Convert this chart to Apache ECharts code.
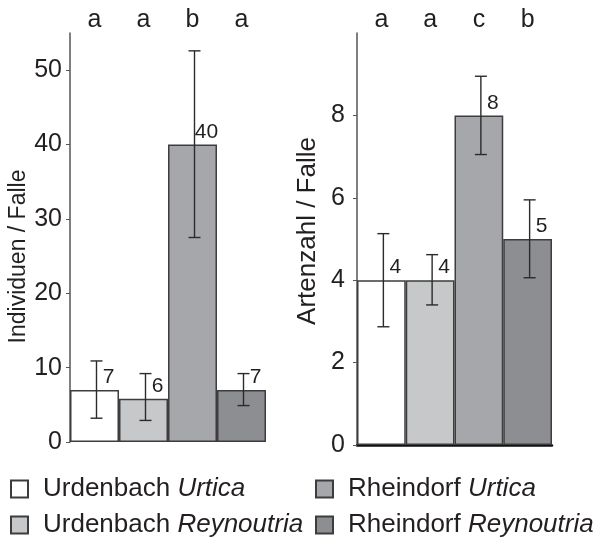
<!DOCTYPE html>
<html>
<head>
<meta charset="utf-8">
<script src="https://cdn.jsdelivr.net/npm/echarts@6/dist/echarts.min.js"></script>
<style>
  html, body { margin: 0; padding: 0; background: #fff; }
  #main { width: 593px; height: 539px; }
</style>
</head>
<body>
<div id="main"></div>
<script>
// groups (legend names: site + plant)
const groups = ["Urdenbach Urtica", "Urdenbach Reynoutria", "Rheindorf Urtica", "Rheindorf Reynoutria"];
const colors = ["#ffffff", "#c7c8ca", "#a6a7aa", "#8d8e91"];

// left panel: Individuen / Falle
const indMean = [7, 5.8, 40, 7];
const indLow = [3.2, 2.9, 27.5, 4.9];
const indHigh = [10.9, 9.2, 52.6, 9.2];
const indLabels = ["7", "6", "40", "7"];
const indLetters = ["a", "a", "b", "a"];

// right panel: Artenzahl / Falle
const artMean = [4, 4, 8, 5];
const artLow = [2.87, 3.4, 7.05, 4.06];
const artHigh = [5.13, 4.62, 8.95, 5.95];
const artLabels = ["4", "4", "8", "5"];
const artLetters = ["a", "a", "c", "b"];

const font = "Liberation Sans, Arial, sans-serif";
const txt = "#231f20";
let chart = echarts.init(document.getElementById("main"));

function barSeries(i, values, labels, axisIdx) {
  return {
    name: groups[i],
    type: "bar",
    stack: "s" + axisIdx,
    xAxisIndex: axisIdx * 2,
    yAxisIndex: axisIdx,
    barWidth: "100%",
    itemStyle: { color: colors[i], borderColor: "#3d3d3d", borderWidth: 1.5 },
    label: {
      show: true,
      position: "top",
      distance: 2,
      offset: [14, 0],
      fontSize: 21,
      fontFamily: font,
      color: txt,
      formatter: () => labels[i]
    },
    data: values.map((v, j) => (j === i ? v : "-"))
  };
}

function errSeries(low, high, axisIdx) {
  return {
    type: "custom",
    xAxisIndex: axisIdx * 2,
    yAxisIndex: axisIdx,
    silent: true,
    z: 5,
    renderItem: function (params, api) {
      const x = api.value(0);
      const lo = api.coord([x, api.value(1)]);
      const hi = api.coord([x, api.value(2)]);
      const cx = lo[0] + 2;
      const hw = 6;
      const st = { stroke: "#2b2b2b", lineWidth: 1.4 };
      return {
        type: "group",
        children: [
          { type: "line", shape: { x1: cx, y1: lo[1], x2: cx, y2: hi[1] }, style: st },
          { type: "line", shape: { x1: cx - hw, y1: lo[1], x2: cx + hw, y2: lo[1] }, style: st },
          { type: "line", shape: { x1: cx - hw, y1: hi[1], x2: cx + hw, y2: hi[1] }, style: st }
        ]
      };
    },
    data: low.map((v, j) => [j, v, high[j]])
  };
}

function catAxis(grid, showLine) {
  return {
    type: "category",
    gridIndex: grid,
    data: groups,
    axisLine: { show: showLine, lineStyle: { color: "#111", width: 2.5 } },
    axisTick: { show: false },
    axisLabel: { show: false }
  };
}

function letterAxis(grid, letters) {
  return {
    type: "category",
    gridIndex: grid,
    position: "top",
    data: letters,
    axisLine: { show: false },
    axisTick: { show: false },
    axisLabel: { fontSize: 25, fontFamily: font, color: txt, margin: 0 }
  };
}

function valAxis(grid, max, interval, name, gap, nameSize, pad, margin) {
  return {
    type: "value",
    gridIndex: grid,
    min: 0,
    max: max,
    interval: interval,
    name: name,
    nameLocation: "middle",
    nameGap: gap,
    nameTextStyle: { fontSize: nameSize, fontFamily: font, color: txt, padding: pad },
    splitLine: { show: false },
    axisLine: { show: true, lineStyle: { color: "#555", width: 1.5 } },
    axisTick: { show: true, length: 4, lineStyle: { color: "#555" } },
    axisLabel: { showMaxLabel: false, fontSize: 25, fontFamily: font, color: txt, margin: margin }
  };
}

function legendRich(name) {
  const k = name.indexOf(" ");
  return name.slice(0, k) + " {i|" + name.slice(k + 1) + "}";
}

const legendText = {
  fontSize: 26,
  fontFamily: font,
  color: txt,
  padding: [0, 0, 0, 10],
  rich: { i: { fontSize: 26, fontFamily: font, fontStyle: "italic", color: txt } }
};

function legendItem(i, left, top) {
  return {
    data: [groups[i]],
    left: left, top: top,
    itemWidth: 17, itemHeight: 17, icon: "rect",
    formatter: legendRich, textStyle: legendText
  };
}

let option = {
  backgroundColor: "#fff",
  animation: false,
  grid: [
    { left: 70, top: 33, width: 196, height: 409 },
    { left: 357, top: 33, width: 195, height: 412 }
  ],
  xAxis: [
    catAxis(0, false),
    letterAxis(0, indLetters),
    catAxis(1, true),
    letterAxis(1, artLetters)
  ],
  yAxis: [
    valAxis(0, 55, 10, "Individuen / Falle", 38, 23, [0, 38, 0, 0], 8),
    valAxis(1, 10, 2, "Artenzahl / Falle", 36, 26, [0, 0, 0, 16], 12)
  ],
  legend: [
    legendItem(0, 5, 471),
    legendItem(1, 5, 507),
    legendItem(2, 310, 471),
    legendItem(3, 310, 507)
  ],
  series: [
    ...groups.map((g, i) => barSeries(i, indMean, indLabels, 0)),
    errSeries(indLow, indHigh, 0),
    ...groups.map((g, i) => barSeries(i, artMean, artLabels, 1)),
    errSeries(artLow, artHigh, 1)
  ]
};

chart.setOption(option);
</script>
</body>
</html>
